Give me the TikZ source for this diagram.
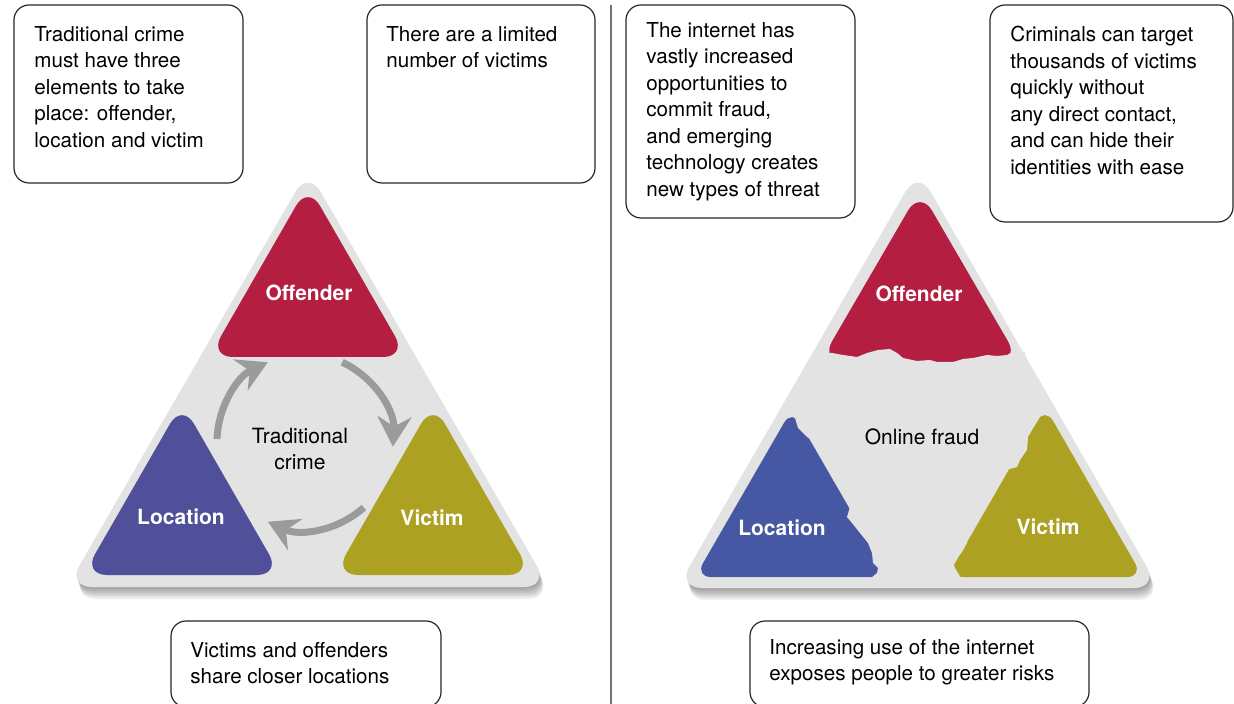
\documentclass[tikz,border=0pt]{standalone}
\usepackage{fontspec}
\setmainfont{TeX Gyre Heros}
\usetikzlibrary{arrows.meta}

\definecolor{offRed}{RGB}{180,30,64}
\definecolor{locBlue}{RGB}{79,79,154}
\definecolor{locBlueB}{RGB}{70,87,163}
\definecolor{vicOlive}{RGB}{172,161,35}
\definecolor{panelGrey}{RGB}{227,227,227}
\definecolor{cycleGrey}{RGB}{155,155,155}

\begin{document}
\begin{tikzpicture}
[x=0.5pt,y=-0.5pt,
  noteBox/.style={draw=black!85,line width=0.6pt,rounded corners=7.5pt,fill=white},
  noteText/.style={anchor=north west,inner sep=0pt,align=left,
    font=\fontsize{10.3}{13.25}\selectfont},
  panel/.style={fill=panelGrey,rounded corners=12.5pt},
  panelShade/.style={fill=black,opacity=0.05,rounded corners=12.5pt},
  corner/.style={rounded corners=12pt},
  tagText/.style={text=white,font=\fontsize{10.5}{12}\selectfont\bfseries},
  midText/.style={align=center,font=\fontsize{10.5}{13.25}\selectfont},
  cycleArrow/.style={draw=cycleGrey,line width=3.5pt,
    -{Stealth[length=15pt,width=17pt,inset=5pt]}}]
\clip (0,0) rectangle (1234,704);
\fill[white] (0,0) rectangle (1234,704);

% divider between the two halves
\draw[black!55,line width=0.6pt] (611,5) -- (611,704);

% notes, left half
\draw[noteBox] (14,5) rectangle (243,183);
\node[noteText] (noteTrad) at (34,26)
  {Traditional crime\\must have three\\elements to take\\place: offender,\\location and victim};
\draw[noteBox] (367,5) rectangle (595,183);
\node[noteText] (noteLimited) at (386,26) {There are a limited\\number of victims};
\draw[noteBox] (171,621) rectangle (441,707);
\node[noteText] (noteCloser) at (190,642) {Victims and offenders\\share closer locations};

% notes, right half
\draw[noteBox] (626,5) rectangle (855,218);
\node[noteText] (noteInternet) at (646,22)
  {The internet has\\vastly increased\\opportunities to\\commit fraud,\\and emerging\\technology creates\\new types of threat};
\draw[noteBox] (990,5) rectangle (1233,222);
\node[noteText] (noteCriminals) at (1010,26)
  {Criminals can target\\thousands of victims\\quickly without\\any direct contact,\\and can hide their\\identities with ease};
\draw[noteBox] (750,621) rectangle (1089,707);
\node[noteText] (noteRisks) at (769,639)
  {Increasing use of the internet\\exposes people to greater risks};

% traditional crime triangle
\foreach \k in {1,...,8}
  \fill[panelShade,shift={(\k*0.5,\k*1.5)}] (308,170) -- (549,587) -- (67,587) -- cycle;
\fill[panel] (308,170) -- (549,587) -- (67,587) -- cycle;
\fill[offRed,corner] (308,185) -- (407,357) -- (209,357) -- cycle;
\fill[locBlue,corner] (182,403) -- (281,575) -- (83,575) -- cycle;
\fill[vicOlive,corner] (433,403) -- (532,575) -- (334,575) -- cycle;
\node[tagText] (offL) at (309,293) {Offender};
\node[tagText] (locL) at (181,517) {Location};
\node[tagText] (vicL) at (432,518) {Victim};
\coordinate (cycleC) at (305,442);
\node[midText] (tradCrime) at (300,449) {Traditional\\crime};
\draw[cycleArrow] ([shift={(182:88)}]cycleC) arc[start angle=182,end angle=245,radius=88];
\draw[cycleArrow] ([shift={(295:88)}]cycleC) arc[start angle=295,end angle=363,radius=88];
\draw[cycleArrow] ([shift={(48:88)}]cycleC) arc[start angle=48,end angle=115,radius=88];

% online fraud triangle
\foreach \k in {1,...,8}
  \fill[panelShade,shift={(\k*0.5,\k*1.5)}] (918,170) -- (1159,588) -- (677,588) -- cycle;
\fill[panel] (918,170) -- (1159,588) -- (677,588) -- cycle;
\fill[offRed,corner] (920,190) -- (1020,362) -- (820,362) -- cycle;
\fill[locBlueB,rounded corners=8pt] (792,409) -- (889,577) -- (695,577) -- cycle;
\fill[vicOlive,rounded corners=8pt] (1045,407) -- (1143,577) -- (947,577) -- cycle;
% torn edges
\fill[panelGrey] (815,353) -- (832,353) -- (843,355) -- (857,357) -- (867,353) -- (878,350)
  -- (890,349) -- (897,353) -- (903,358) -- (917,361) -- (930,360) -- (937,362) -- (953,362)
  -- (963,359) -- (973,358) -- (987,355) -- (997,356) -- (1007,355) -- (1012,352)
  -- (1025,352) -- (1025,380) -- (815,380) -- cycle;
\fill[panelGrey] (794,400) -- (795,418) -- (798,428) -- (807,437) -- (815,442) -- (818,452)
  -- (827,460) -- (833,472) -- (833,480) -- (840,487) -- (843,495) -- (850,507) -- (847,517)
  -- (852,523) -- (860,533) -- (868,543) -- (872,553) -- (873,563) -- (878,568) -- (877,573)
  -- (871,578) -- (871,582) -- (905,582) -- (905,400) -- cycle;
\fill[panelGrey] (1043,398) -- (1040,417) -- (1032,430) -- (1028,437) -- (1027,450) -- (1020,460)
  -- (1017,467) -- (1005,470) -- (1000,477) -- (995,487) -- (992,497) -- (983,500) -- (980,507)
  -- (978,517) -- (972,523) -- (968,533) -- (967,543) -- (962,552) -- (957,558) -- (953,563)
  -- (955,568) -- (961,578) -- (961,582) -- (930,582) -- (930,398) -- cycle;
\node[tagText] (offR) at (919,294) {Offender};
\node[tagText] (locR) at (782,528) {Location};
\node[tagText] (vicR) at (1048,527) {Victim};
\node[midText] (onlineFraud) at (922,437) {Online fraud};
\end{tikzpicture}
\end{document}
